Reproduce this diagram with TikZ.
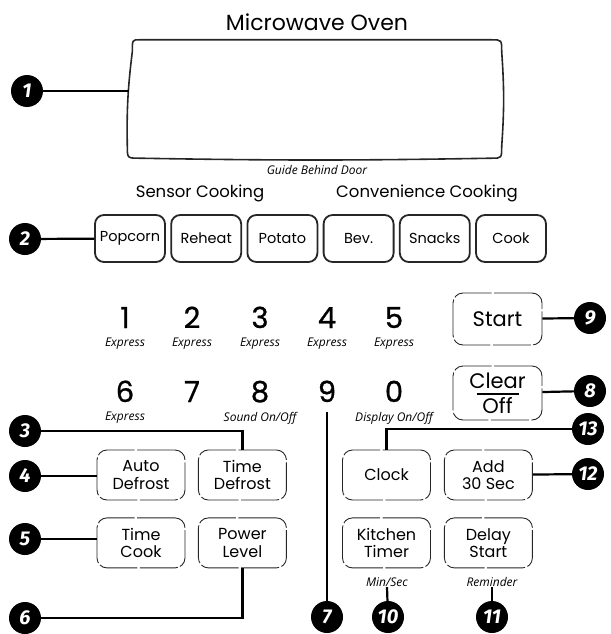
\documentclass[tikz,border=0pt]{standalone}
\usepackage{fontspec}
\setmainfont{Poppins}
\newfontfamily\digitfont[FakeBold=0.8]{Poppins}
\newfontfamily\notefont{Open Sans}
\newfontfamily\calloutfont{Fira Sans}
\usepackage{tikz}
\usetikzlibrary{positioning}
\tikzset{
  screen/.style={line width=1.6pt, draw=black!85},
  btn/.style={draw=black!85, line width=1.8pt, rounded corners=9pt, minimum width=70pt, minimum height=47pt, inner sep=1pt, font=\fontsize{14.5}{16}\selectfont},
  pad/.style={draw=black!85, line width=0.9pt, dash pattern=on 38pt off 2.5pt, rounded corners=10pt, minimum width=88pt, minimum height=50pt, inner sep=1pt, align=center, font=\fontsize{16}{17.5}\selectfont},
  bigpad/.style={pad, minimum width=89pt, minimum height=52pt, font=\fontsize{21}{22}\selectfont},
  digit/.style={inner sep=0pt, anchor=base, font=\digitfont\fontsize{29}{29}\selectfont},
  note/.style={inner sep=0.5pt, font=\notefont\itshape\fontsize{12}{13}\selectfont},
  head/.style={inner sep=1pt, font=\fontsize{16.5}{18}\selectfont},
  callout/.style={circle, fill=black, text=white, minimum size=32pt, inner sep=0pt, font=\calloutfont\bfseries\itshape\fontsize{20}{20}\selectfont},
  lead/.style={line width=2.2pt},
}
\begin{document}
\begin{tikzpicture}[x=1pt,y=-1pt]
\useasboundingbox (0,0) rectangle (610,634);

% display window
\node[font=\fontsize{22}{24}\selectfont] (title) at (317,22) {Microwave Oven};
\node[minimum width=372pt, minimum height=118pt, inner sep=0pt] (display) at (315.5,99) {};
\draw[screen] ([xshift=10pt]display.north west) -- ([xshift=-10pt]display.north east)
  .. controls (display.north east) .. ([yshift=-12pt]display.north east)
  to[bend left=4] ([yshift=12pt]display.south east)
  .. controls (display.south east) .. ([xshift=-10pt]display.south east)
  to[bend left=1] ([xshift=10pt]display.south west)
  .. controls ([xshift=-2pt]display.south west) .. ([xshift=-2pt,yshift=12pt]display.south west)
  to[bend left=4] ([xshift=3pt,yshift=-12pt]display.north west)
  .. controls ([xshift=3pt]display.north west) .. ([xshift=10pt]display.north west) -- cycle;
\node[note] (guide) at (317,170) {Guide Behind Door};

% sensor and convenience pads
\node[head] (sensor) at (200,193) {Sensor Cooking};
\node[head] (conv) at (427,193) {Convenience Cooking};
\node[btn] (popcorn) at (130,238.5) {Popcorn};
\node[btn, right=4.4pt of popcorn] (reheat) {Reheat};
\node[btn, right=4.4pt of reheat] (potato) {Potato};
\node[btn, right=4.4pt of potato] (bev) {Bev.};
\node[btn, right=4.4pt of bev] (snacks) {Snacks};
\node[btn, right=4.4pt of snacks] (cook) {Cook};

% number pad
\foreach \d/\x in {1/125,2/192,3/260,4/327,5/394}{
  \node[digit] (k\d) at (\x,328) {\d};
  \node[note] (e\d) at (\x,344) {Express};
}
\foreach \d/\x in {6/125,7/192,8/260,9/327,0/394}{
  \node[digit] (k\d) at (\x,402) {\d};
}
\node[note] (e6) at (125,418) {Express};
\node[note] (sound) at (260,418) {Sound On/Off};
\node[note] (dispoff) at (394,418) {Display On/Off};

\node[bigpad] (start) at (497.5,319) {Start};
\node[bigpad, minimum height=54pt, align=center, font=\fontsize{21}{25}\selectfont] (clear) at (497.5,393) {Clear\\Off};
\draw[line width=1.6pt] ([xshift=-21pt,yshift=-1pt]clear.center) -- ([xshift=21pt,yshift=-1pt]clear.center);

% lower pads
\node[pad] (adef) at (141,475) {Auto\\Defrost};
\node[pad, right=12.5pt of adef] (tdef) {Time\\Defrost};
\node[pad, below=17pt of adef] (tcook) {Time\\Cook};
\node[pad, below=17pt of tdef] (plevel) {Power\\Level};
\node[pad] (clock) at (386.5,475) {Clock};
\node[pad, right=13pt of clock] (add) {Add\\30 Sec};
\node[pad, below=17pt of clock] (ktimer) {Kitchen\\Timer};
\node[pad, below=17pt of add] (delay) {Delay\\Start};
\node[note] (minsec) at (387,582) {Min/Sec};
\node[note] (remind) at (492,582) {Reminder};

% callouts
\node[callout] (c1) at (27,91) {1};
\node[callout] (c2) at (25,239) {2};
\node[callout] (c3) at (25,431) {3};
\node[callout] (c4) at (25,476) {4};
\node[callout] (c5) at (25,539) {5};
\node[callout] (c6) at (25,618) {6};
\node[callout] (c7) at (327,617) {7};
\node[callout] (c8) at (590,391) {8};
\node[callout] (c9) at (590,318) {9};
\node[callout] (c10) at (388,617) {10};
\node[callout] (c11) at (492,617) {11};
\node[callout] (c12) at (588,474) {12};
\node[callout] (c13) at (588,429) {13};

\draw[lead] (c1) -- (c1 -| display.west);
\draw[lead] (c2) -- (popcorn);
\draw[lead] (c3) -| (tdef.north);
\draw[lead] (c4) -- (c4 -| adef.west);
\draw[lead] (c5) -- (c5 -| tcook.west);
\draw[lead] (c6) -| (plevel.south);
\draw[lead] ([yshift=-10pt]k9.south) -- (c7);
\draw[lead] (c8) -- (clear);
\draw[lead] (c9) -- (start);
\draw[lead] (minsec.south) -- (c10);
\draw[lead] (remind.south) -- (c11);
\draw[lead] (c12) -- (add);
\draw[lead] (c13) -| (clock.north);
\end{tikzpicture}
\end{document}
